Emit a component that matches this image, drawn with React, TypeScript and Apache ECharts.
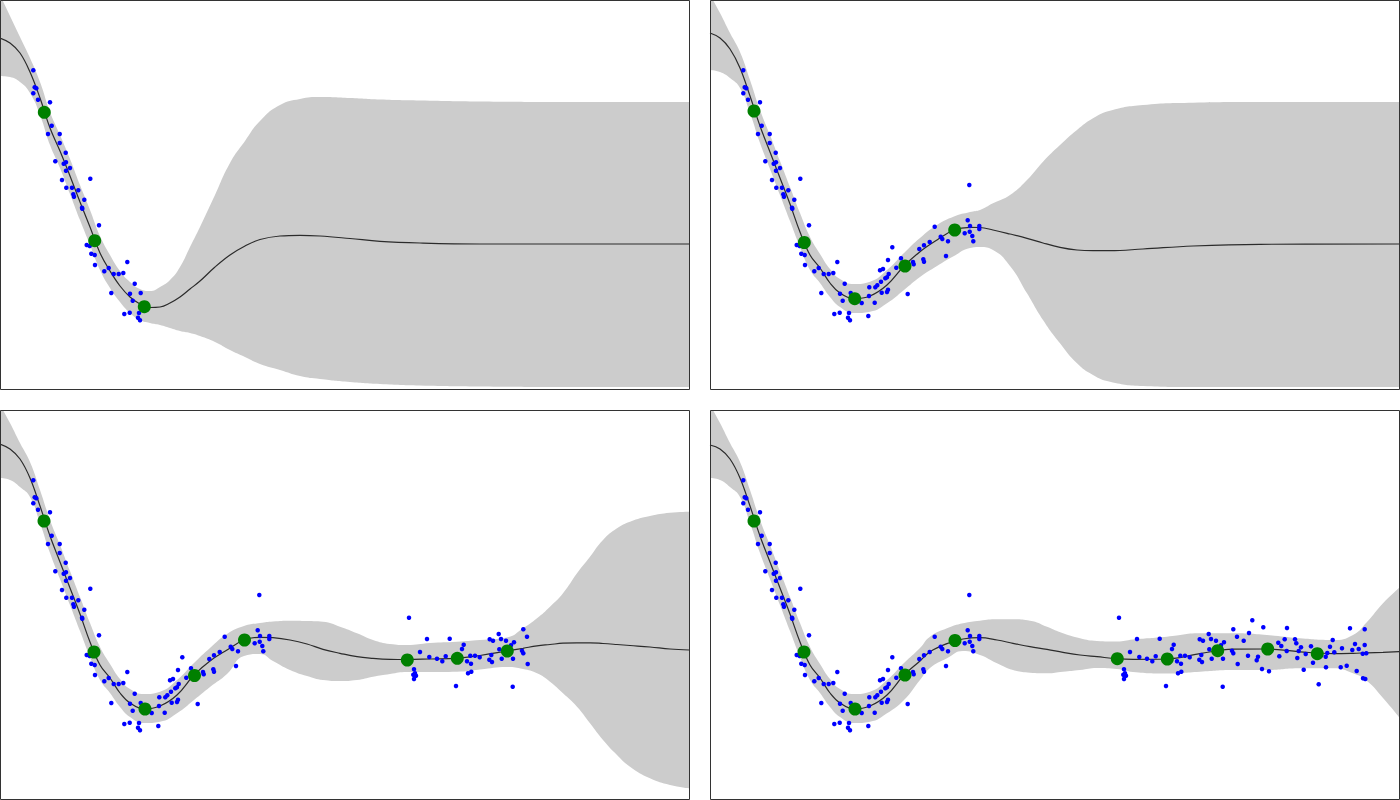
import React, { useEffect, useRef } from "react";
import * as echarts from "echarts";

// Observations (x, y) in data units; y grows downward (inverted axis)
const dotsA: [number, number][] = [
  [33.3, 70.3], [34.7, 87.3], [36.3, 88.3], [33.3, 93.3], [38, 99.7], [50, 102.3],
  [51.7, 125.7], [48, 134], [59.7, 134], [59.7, 143], [65.7, 152.7], [55.3, 161.3],
  [63.7, 163.7], [66, 162.3], [70, 168], [66, 170.7], [90.3, 178.7], [62, 180],
  [66.3, 187.7], [72, 187.7], [78.3, 190.3], [73.3, 194.3], [74, 196.7], [84.3, 199.7],
  [82, 207.7], [82.3, 208.7], [99, 225.3], [86.7, 245], [89.7, 246], [91.3, 253.7],
  [94.7, 255], [95, 265], [108.7, 268], [104.3, 271.3], [127.3, 262], [113.7, 274],
  [118.7, 274], [123.3, 273], [134.7, 283.7], [111.3, 293], [130, 293.7], [140.7, 293],
  [132.7, 300.7], [124.3, 314], [129.7, 312.7], [139, 313], [138, 317.7], [140, 320.3],
];

const dotsB: [number, number][] = [
  [151.7, 303], [158.3, 316], [159, 296], [159.3, 287.3], [164.7, 302.7], [165.3, 287.3],
  [167.3, 285.3], [171, 281.7], [170, 270.3], [173, 269], [178, 260], [182.3, 247.3],
  [175.3, 278.3], [177, 277.3], [178.7, 274], [171.7, 292.7], [177, 292], [178, 289.7],
  [197.7, 294], [191, 258.3], [186.3, 267.7], [203, 262], [203.7, 264.3], [209.3, 249],
  [214, 245.3], [213.3, 259.3], [214, 261.7], [219.7, 242], [224.7, 226.7], [230.7, 236.7],
  [232.3, 239], [238, 241.3], [236, 256], [257.7, 220.3], [260, 226], [254.7, 233.3],
  [259.7, 231.7], [262.3, 236], [263.3, 241.3], [269.3, 226], [269.3, 229], [259.3, 185],
];

const dotsC: [number, number][] = [
  [409, 207.7], [427, 229], [449.7, 228.7], [420, 242], [429.3, 247], [437, 248.7],
  [442.3, 251.3], [445.7, 246.3], [414, 259.3], [415, 263.3], [413.3, 264.7], [416, 265.7],
  [414, 269], [456, 276], [463.7, 234.7], [462, 239], [467, 251.3], [471, 253.7],
  [470.3, 245.7], [475, 245.7], [479.7, 247.3], [468, 263.3], [471.3, 261.7], [489.7, 229.3],
  [493, 230.7], [498.7, 224], [501, 229], [506, 230.7], [514, 232.3], [511, 235.3],
  [499.3, 239.3], [491.3, 245], [489.3, 249.7], [492, 252], [501.7, 248.7], [513, 248.7],
  [522, 240.7], [523.3, 243.3], [523.3, 219.3], [527, 226.7], [527.7, 254], [512.7, 276.7],
];

const dotsD: [number, number][] = [
  [533.7, 230.7], [539, 223], [542.3, 210.3], [538, 245.7], [546.7, 250.3], [548, 246.7],
  [552, 259], [553.3, 217.3], [559, 261.3], [568.3, 232.7], [571.3, 236], [574.7, 229.3],
  [577, 218], [569.3, 246.3], [576.7, 241], [585, 229.3], [586.3, 233.3], [588.7, 241],
  [591, 237.3], [587.3, 248], [593.7, 259.7], [595.7, 244], [601, 236.3], [603, 252.7],
  [604.3, 242.3], [608.7, 274.3], [615.7, 246.7], [617.3, 243], [616, 257.3], [620, 236.7],
  [622.7, 230], [624.3, 242.3], [630.7, 257.3], [632, 238.3], [636.7, 255.7], [640, 218.3],
  [642.3, 240], [645, 234], [648.7, 239], [646.7, 261], [652.7, 243.7], [654.7, 235],
  [656.3, 243.3], [654.7, 219.3], [653, 268.3], [655.3, 269],
];

// Panel 1
const x1 = [0, 10, 20, 30, 40, 50, 60, 70, 80, 90, 100, 110, 120, 130, 140, 150, 160, 170, 180, 190, 200, 215, 230, 245, 260, 280, 300, 320, 350, 380, 420, 480, 560, 689];
const mean1 = [38, 43, 53, 72, 98, 128, 151, 176, 202, 227, 253, 271, 286, 297, 304, 307.5, 307, 303, 297, 289, 281, 267, 255, 246, 239.5, 236, 235.3, 236, 238.5, 241.3, 243, 244, 244, 244];
const upper1 = [-5, 16, 37, 58, 82, 112, 135, 159, 185, 210, 236, 255, 271, 282, 289, 291, 287, 280, 267, 247, 227, 195, 163, 141, 121, 105, 99, 97, 98, 99.5, 100.5, 101.5, 102, 102];
const lower1 = [76, 77, 82, 93, 115, 145, 168, 194, 220, 245, 270, 288, 302, 313, 320, 323, 325, 328, 331, 333, 336, 342, 350, 357, 364, 370, 376, 379, 382, 384, 385.5, 386.5, 387, 387];
const green1: [number, number][] = [[44.3, 112.3], [94.7, 240.7], [144.3, 306.7]];

// Panel 2
const x2 = [0, 10, 20, 30, 40, 50, 60, 70, 80, 90, 100, 110, 120, 130, 144, 160, 177, 194, 210, 227, 244, 260, 270, 283, 300, 317, 333, 350, 367, 383, 400, 433, 483, 550, 689];
const mean2 = [33, 38, 49, 68, 96, 126, 152, 178, 204, 232, 255, 268, 283, 293, 298.7, 296, 285, 266, 251.7, 240, 230, 227.3, 227.5, 230, 234, 238.3, 243, 247.3, 250, 250.7, 250.7, 249, 246, 244.3, 244];
const upper2 = [-5, 13, 33, 52, 80, 110, 135, 161, 187, 213, 237, 254, 269, 279, 284, 281.7, 270, 253, 238, 225, 216.5, 212, 210, 203.3, 195, 180, 161.7, 145, 130, 118.3, 110.7, 105, 102.7, 102, 102];
const lower2 = [70, 72, 78, 88, 113, 143, 169, 195, 221, 247, 270, 283, 297, 307, 313, 311.7, 303.3, 290, 277, 266, 256, 248, 247, 250, 266, 293.3, 320, 343.3, 363.3, 375, 381.7, 386, 387, 387, 387];
const green2: [number, number][] = [[44, 111], [94.3, 242.5], [144.7, 298.7], [195, 266], [244.7, 230]];

// Panel 3
const x3 = [0, 10, 20, 30, 40, 50, 60, 70, 80, 90, 100, 110, 120, 130, 144, 160, 177, 194, 210, 227, 244, 260, 273, 290, 307, 323, 340, 357, 373, 390, 407, 430, 457, 480, 507, 523, 537, 550, 563, 577, 590, 603, 617, 630, 650, 670, 689];
const mean3 = [34, 39, 49, 68, 96, 126, 152, 178, 204, 232, 255, 268, 283, 293, 299, 296, 285, 265, 251, 240, 230, 227.3, 227.7, 230, 234, 239.3, 243.3, 246.7, 248.3, 249.3, 249.5, 249, 248.3, 245.5, 241, 238.3, 235.8, 234.5, 233.2, 232.8, 232.8, 233.5, 234.5, 235.5, 237, 239, 240];
const upper3 = [-5, 13, 33, 52, 80, 110, 135, 161, 187, 213, 237, 254, 269, 279, 284, 281.7, 270, 253, 238, 224, 216, 213, 211.5, 210.7, 211, 211.7, 216.7, 223.3, 230, 234, 235, 233, 231.7, 230, 227.5, 218.3, 208.3, 196.7, 183.3, 163.3, 146.7, 130, 118.3, 111.7, 106, 102.7, 101.7];
const lower3 = [68, 70, 77, 87, 113, 143, 169, 195, 221, 247, 270, 283, 297, 307, 313, 311.7, 303.3, 290, 277, 264, 246, 244, 251, 260, 266, 270, 271, 270, 266.7, 264, 262, 262, 261.7, 259.5, 257, 259, 263.3, 271.7, 283.3, 296.7, 313.3, 330, 345, 356.7, 368.3, 375, 378.3];
const green3: [number, number][] = [[44, 111], [94, 242], [145, 299], [194.5, 265.5], [244.5, 230], [407.3, 250], [457.3, 248.3], [507.3, 241]];

// Panel 4
const x4 = [0, 10, 20, 30, 40, 50, 60, 70, 80, 90, 100, 110, 120, 130, 144, 160, 177, 194, 210, 220, 237, 253, 270, 287, 303, 320, 337, 353, 370, 387, 407, 423, 457, 490, 523, 557, 590, 623, 643, 657, 673, 689];
const mean4 = [35, 39, 49, 68, 96, 126, 152, 178, 204, 232, 255, 268, 283, 293, 299, 296, 285, 265, 251, 241.7, 233.6, 229, 227.7, 230, 233.3, 236.7, 239.3, 242.3, 245, 246.7, 248.7, 249.3, 249, 243.6, 239.2, 239, 241.8, 243.6, 243.3, 242.8, 242.3, 241.7];
const upper4 = [-5, 13, 33, 52, 80, 110, 135, 161, 187, 213, 237, 254, 269, 279, 284, 281.7, 270, 253, 238, 226.7, 218.3, 213.3, 210.7, 209.3, 209.3, 210.7, 216.7, 223.3, 228.3, 231, 231.5, 229.5, 226.7, 223.3, 223.3, 225, 228.3, 230, 225, 212, 193.3, 178];
const lower4 = [68, 70, 77, 87, 113, 143, 169, 195, 221, 247, 270, 283, 297, 307, 313, 311.7, 303.3, 290, 270, 258, 248.3, 241, 245, 253.3, 260, 262.7, 263.3, 261.7, 260, 258, 259, 262, 263.5, 261.7, 260, 260, 258.3, 258.3, 263.3, 271, 288, 307];
const green4: [number, number][] = [[44, 111], [94, 242], [145, 299], [195, 265], [245, 230.5], [407.3, 248.7], [457.3, 249], [507.7, 240.7], [557.7, 239], [607.3, 243.7]];

const X_MAX = 689;
const Y_MAX = 389;

const panels = [
  { xs: x1, mean: mean1, upper: upper1, lower: lower1, dots: [...dotsA], green: green1 },
  { xs: x2, mean: mean2, upper: upper2, lower: lower2, dots: [...dotsA, ...dotsB], green: green2 },
  { xs: x3, mean: mean3, upper: upper3, lower: lower3, dots: [...dotsA, ...dotsB, ...dotsC], green: green3 },
  { xs: x4, mean: mean4, upper: upper4, lower: lower4, dots: [...dotsA, ...dotsB, ...dotsC, ...dotsD], green: green4 },
];

const layout = [
  { left: 0, top: 0 },
  { left: 710, top: 0 },
  { left: 0, top: 410 },
  { left: 710, top: 410 },
];

export default function App() {
  const ref = useRef<HTMLDivElement>(null);
  useEffect(() => {
    if (!ref.current) return;
    const chart = echarts.init(ref.current, undefined, { renderer: "svg" });
    const series: any[] = [];
    panels.forEach((p, i) => {
      // band: grey fill from the top edge down, then white fill from the bottom edge down
      series.push({
        type: "line", xAxisIndex: i, yAxisIndex: i, data: p.xs.map((x, k) => [x, p.upper[k]]),
        smooth: 0.5, symbol: "none", lineStyle: { width: 0, opacity: 0 },
        areaStyle: { color: "#cccccc", opacity: 1, origin: "end" }, silent: true, z: 1,
      });
      series.push({
        type: "line", xAxisIndex: i, yAxisIndex: i, data: p.xs.map((x, k) => [x, p.lower[k]]),
        smooth: 0.5, symbol: "none", lineStyle: { width: 0, opacity: 0 },
        areaStyle: { color: "#ffffff", opacity: 1, origin: "end" }, silent: true, z: 1,
      });
      series.push({
        type: "line", xAxisIndex: i, yAxisIndex: i, data: p.xs.map((x, k) => [x, p.mean[k]]),
        smooth: 0.4, symbol: "none", lineStyle: { color: "#2b2b2b", width: 1.2 }, silent: true, z: 2,
      });
      series.push({
        type: "scatter", xAxisIndex: i, yAxisIndex: i, data: p.dots, symbolSize: 4.5,
        itemStyle: { color: "#0000ff", opacity: 1 }, silent: true, z: 3,
      });
      series.push({
        type: "scatter", xAxisIndex: i, yAxisIndex: i, data: p.green, symbolSize: 13,
        itemStyle: { color: "#008000", opacity: 1 }, silent: true, z: 4,
      });
    });
    chart.setOption({
      animation: false,
      backgroundColor: "#ffffff",
      grid: layout.map((l) => ({ left: l.left, top: l.top, width: X_MAX, height: Y_MAX, containLabel: false })),
      xAxis: layout.map((_, i) => ({ type: "value", gridIndex: i, min: 0, max: X_MAX, show: false })),
      yAxis: layout.map((_, i) => ({ type: "value", gridIndex: i, min: 0, max: Y_MAX, inverse: true, show: false })),
      series,
      graphic: layout.map((l) => ({
        type: "rect",
        shape: { x: l.left + 0.5, y: l.top + 0.5, width: X_MAX, height: Y_MAX },
        style: { fill: "none", stroke: "#333333", lineWidth: 1 },
        z: 100,
        silent: true,
      })),
    });
    return () => chart.dispose();
  }, []);
  return (
    <div
      ref={ref}
      style={{ position: "absolute", left: 0, top: 0, width: 1400, height: 800 }}
    />
  );
}
